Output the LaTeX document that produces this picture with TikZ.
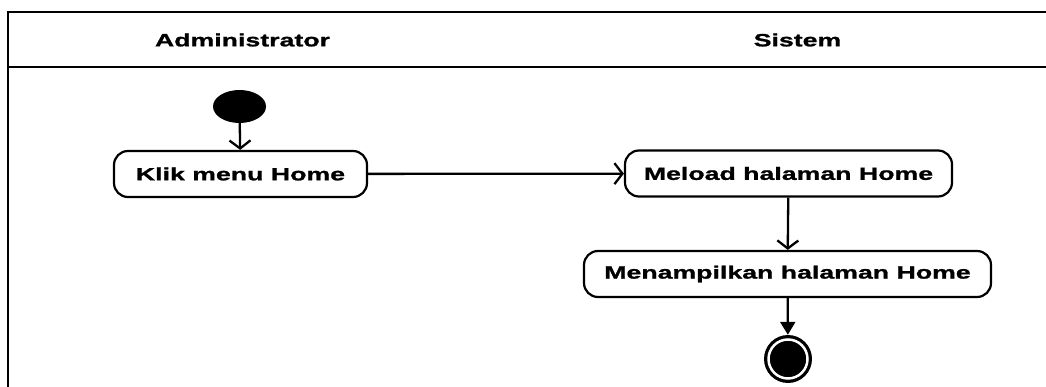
\documentclass[tikz,border=0pt]{standalone}
\usepackage{fontspec}
\newfontfamily\lblfont[FakeStretch=1.5,FakeBold=1.2]{Liberation Sans}
\usetikzlibrary{arrows.meta,shapes.geometric}
\begin{document}
\begin{tikzpicture}[x=1pt,y=-1pt,
  lane/.style={line width=2.3pt},
  act/.style={draw, line width=2.2pt, rounded corners=14pt, minimum height=46pt, inner sep=0pt,
    font=\lblfont\bfseries\fontsize{17.8}{20}\selectfont},
  hdr/.style={font=\lblfont\bfseries\fontsize{17.8}{20}\selectfont, inner sep=0pt},
  flow/.style={line width=2.3pt, -{Straight Barb[length=8pt,width=21pt,line width=2.3pt]}},
  endflow/.style={line width=2.3pt, -{Triangle[length=13pt,width=15pt]}}
]
\useasboundingbox (0,0) rectangle (1046,387);
% swimlane frame
\draw[lane] (8,400) -- (8,12) -- (1050,12);
\draw[lane] (8,67) -- (1050,67);
\node[hdr] (admin) at (242.5,40) {Administrator};
\node[hdr] (sistem) at (797.5,40) {Sistem};
% nodes
\node[ellipse, fill=black, minimum width=53pt, minimum height=33pt, inner sep=0pt] (start) at (239.5,106.5) {};
\node[act, minimum width=253pt] (klik) at (240.5,174) {Klik menu Home};
\node[act, minimum width=327pt] (meload) at (788.5,173.5) {Meload halaman Home};
\node[act, minimum width=407pt] (tampil) at (787.5,274) {Menampilkan halaman Home};
\node[circle, fill=black, minimum size=48pt, inner sep=0pt] (end) at (788,359) {};
\node[circle, draw=white, line width=2.5pt, minimum size=39pt, inner sep=0pt] (endring) at (end) {};
% connectors
\draw[flow] (start) -- (klik);
\draw[flow] (klik) -- (meload);
\draw[flow] (meload) -- (tampil);
\draw[endflow] (tampil) -- (end);
\end{tikzpicture}
\end{document}
